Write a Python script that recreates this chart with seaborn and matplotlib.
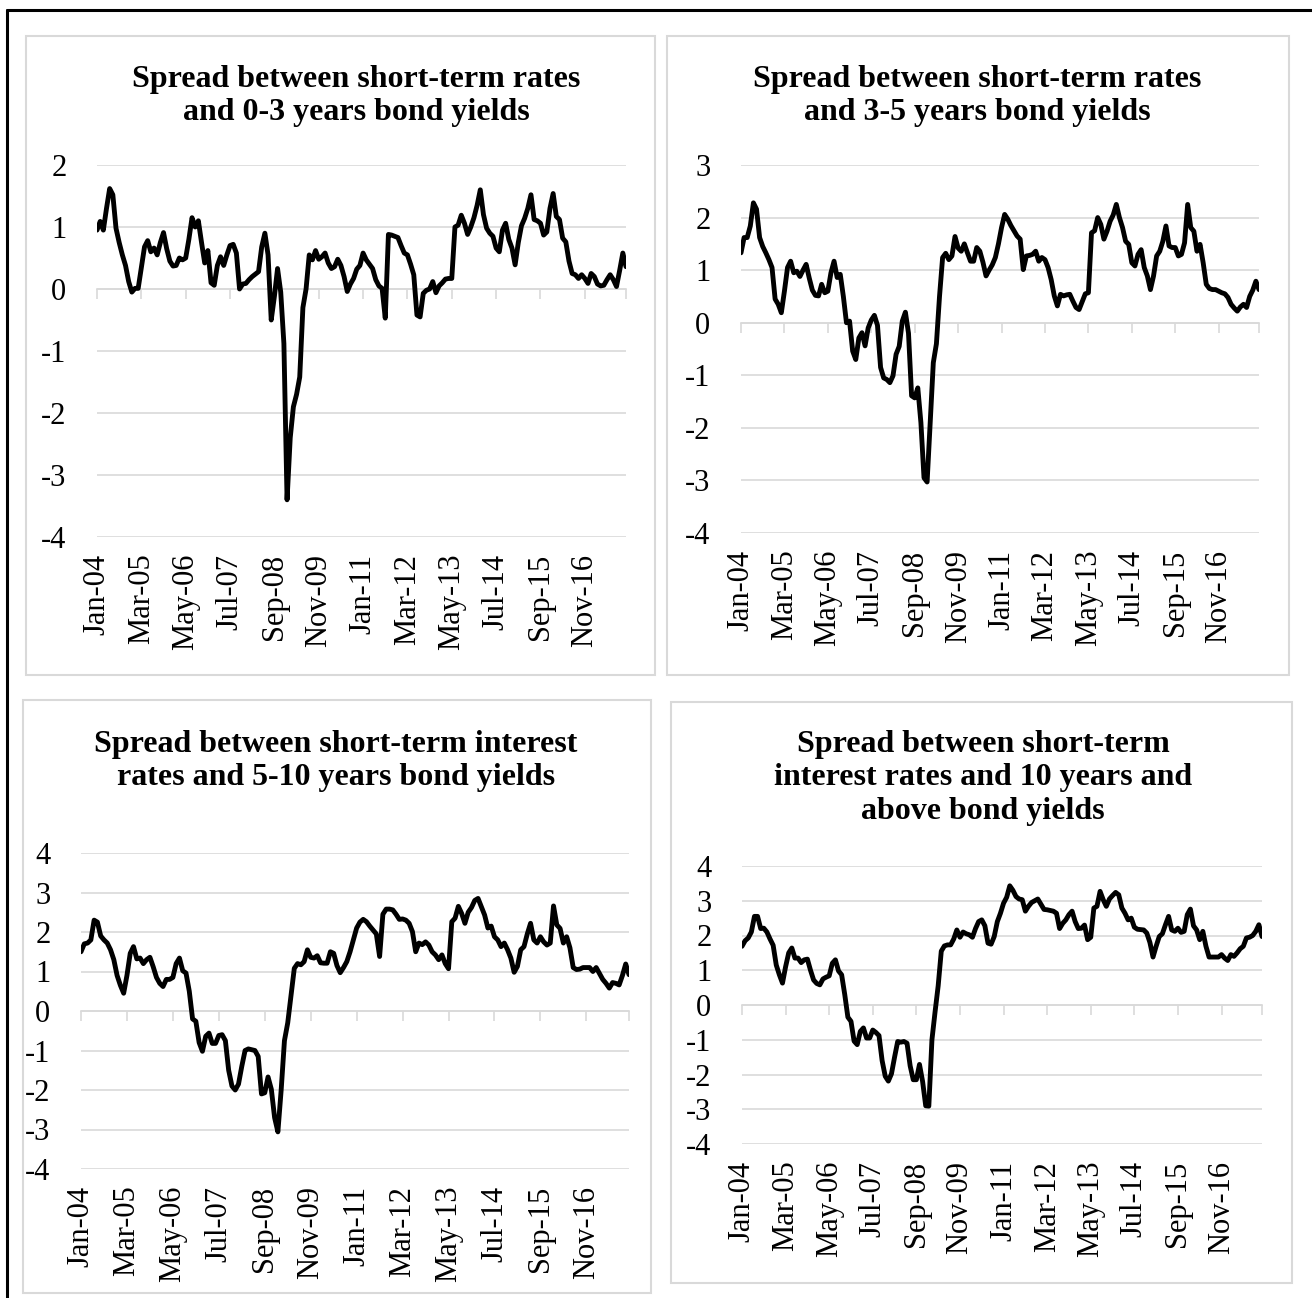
import matplotlib.pyplot as plt
import matplotlib.patches as mpatches
import matplotlib.lines as mlines
import pandas as pd
import seaborn as sns

# monthly spreads, Jan-04 .. Dec-17 (168 months)
spread_0_3 = [
    0.95, 1.09, 0.95, 1.3, 1.62, 1.52, 0.98, 0.75, 0.55, 0.38, 0.12, -0.05, 0.01, 0.01,
    0.35, 0.68, 0.78, 0.6, 0.66, 0.55, 0.75, 0.91, 0.65, 0.45, 0.37, 0.38, 0.5, 0.47,
    0.5, 0.8, 1.15, 1.0, 1.1, 0.75, 0.42, 0.62, 0.1, 0.06, 0.38, 0.52, 0.38, 0.55,
    0.7, 0.72, 0.58, 0.0, 0.08, 0.09, 0.15, 0.2, 0.24, 0.28, 0.68, 0.9, 0.55, -0.5,
    -0.12, 0.33, -0.05, -0.88, -3.4, -2.4, -1.9, -1.7, -1.42, -0.3, 0.0, 0.55, 0.47, 0.62,
    0.48, 0.52, 0.58, 0.42, 0.33, 0.36, 0.48, 0.38, 0.2, -0.04, 0.08, 0.17, 0.32, 0.38,
    0.58, 0.47, 0.4, 0.33, 0.15, 0.05, 0.01, -0.47, 0.88, 0.87, 0.85, 0.83, 0.7, 0.58,
    0.55, 0.4, 0.23, -0.42, -0.45, -0.07, -0.02, 0.0, 0.12, -0.06, 0.05, 0.1, 0.16, 0.17,
    0.17, 1.0, 1.03, 1.19, 1.06, 0.88, 1.0, 1.15, 1.35, 1.6, 1.2, 0.98, 0.9, 0.85,
    0.66, 0.6, 0.95, 1.06, 0.8, 0.66, 0.39, 0.75, 1.02, 1.14, 1.3, 1.52, 1.12, 1.1,
    1.06, 0.87, 0.92, 1.3, 1.54, 1.17, 1.12, 0.82, 0.76, 0.45, 0.25, 0.23, 0.17, 0.23,
    0.17, 0.09, 0.25, 0.2, 0.08, 0.05, 0.06, 0.15, 0.23, 0.15, 0.04, 0.3, 0.58, 0.36,
]
spread_3_5 = [
    1.33, 1.62, 1.62, 1.84, 2.28, 2.16, 1.62, 1.45, 1.33, 1.2, 1.05, 0.45, 0.35, 0.19,
    0.6, 1.05, 1.17, 0.95, 0.98, 0.88, 1.0, 1.11, 0.85, 0.62, 0.52, 0.51, 0.73, 0.57,
    0.6, 0.95, 1.17, 0.86, 0.92, 0.5, 0.0, 0.03, -0.54, -0.7, -0.29, -0.19, -0.44, -0.1,
    0.05, 0.14, -0.05, -0.85, -1.05, -1.08, -1.14, -1.01, -0.6, -0.45, 0.03, 0.2, -0.2, -1.39,
    -1.43, -1.24, -1.9, -2.95, -3.03, -1.9, -0.76, -0.4, 0.5, 1.24, 1.32, 1.2, 1.27, 1.64,
    1.42, 1.36, 1.5, 1.33, 1.17, 1.17, 1.43, 1.36, 1.15, 0.89, 1.0, 1.1, 1.24, 1.5,
    1.81, 2.06, 1.97, 1.85, 1.75, 1.65, 1.59, 1.01, 1.27, 1.28, 1.3, 1.36, 1.17, 1.24,
    1.2, 1.05, 0.82, 0.51, 0.32, 0.54, 0.51, 0.53, 0.54, 0.41, 0.29, 0.25, 0.4, 0.55,
    0.57, 1.71, 1.75, 2.0, 1.87, 1.59, 1.74, 1.93, 2.05, 2.25, 2.0, 1.81, 1.55, 1.49,
    1.14, 1.08, 1.3, 1.39, 1.05, 0.89, 0.63, 0.89, 1.27, 1.36, 1.55, 1.84, 1.46, 1.43,
    1.43, 1.27, 1.3, 1.52, 2.25, 1.81, 1.74, 1.36, 1.49, 1.14, 0.73, 0.65, 0.63, 0.63,
    0.6, 0.57, 0.55, 0.48, 0.35, 0.28, 0.22, 0.3, 0.35, 0.29, 0.5, 0.62, 0.79, 0.63,
]
spread_5_10 = [
    1.5, 1.7, 1.72, 1.8, 2.3, 2.25, 1.9, 1.8, 1.72, 1.55, 1.3, 0.9, 0.65, 0.45,
    0.9, 1.46, 1.63, 1.32, 1.34, 1.2, 1.3, 1.36, 1.12, 0.85, 0.7, 0.62, 0.8, 0.8,
    0.85, 1.2, 1.34, 1.02, 0.96, 0.5, -0.2, -0.26, -0.8, -1.02, -0.64, -0.56, -0.82, -0.82,
    -0.62, -0.6, -0.75, -1.5, -1.9, -2.0, -1.85, -1.4, -1.0, -0.96, -0.98, -1.0, -1.15, -2.1,
    -2.07, -1.67, -1.98, -2.7, -3.06, -2.0, -0.75, -0.3, 0.4, 1.08, 1.2, 1.17, 1.25, 1.55,
    1.36, 1.34, 1.4, 1.22, 1.21, 1.21, 1.5, 1.46, 1.15, 0.97, 1.1, 1.25, 1.5, 1.8,
    2.1, 2.25, 2.32, 2.26, 2.15, 2.05, 1.95, 1.38, 2.45, 2.58, 2.58, 2.56, 2.45, 2.32,
    2.33, 2.3, 2.22, 2.01, 1.5, 1.72, 1.68, 1.75, 1.67, 1.5, 1.42, 1.3, 1.42, 1.2,
    1.07, 2.26, 2.35, 2.65, 2.47, 2.22, 2.5, 2.62, 2.8, 2.85, 2.64, 2.43, 2.1, 2.15,
    1.88, 1.8, 1.63, 1.72, 1.55, 1.34, 0.98, 1.13, 1.55, 1.63, 1.95, 2.22, 1.8, 1.72,
    1.88, 1.75, 1.67, 1.72, 2.66, 2.18, 2.09, 1.72, 1.88, 1.6, 1.1, 1.05, 1.06, 1.1,
    1.1, 1.1, 1.0, 1.1, 0.95, 0.8, 0.7, 0.58, 0.72, 0.7, 0.66, 0.9, 1.19, 0.92,
]
spread_10_plus = [
    1.69, 1.85, 1.93, 2.1, 2.55, 2.55, 2.2, 2.21, 2.1, 1.9, 1.72, 1.15, 0.87, 0.63,
    1.1, 1.5, 1.64, 1.35, 1.35, 1.22, 1.3, 1.32, 1.0, 0.72, 0.62, 0.58, 0.75, 0.8,
    0.84, 1.2, 1.3, 0.98, 0.87, 0.3, -0.35, -0.47, -1.04, -1.14, -0.76, -0.66, -0.95, -0.95,
    -0.72, -0.79, -0.88, -1.6, -2.05, -2.19, -1.98, -1.5, -1.05, -1.07, -1.05, -1.1, -1.75, -2.15,
    -2.15, -1.71, -2.2, -2.9, -2.91, -1.0, -0.2, 0.55, 1.55, 1.7, 1.73, 1.73, 1.9, 2.16,
    1.95, 2.1, 2.05, 2.02, 1.95, 2.2, 2.4, 2.45, 2.28, 1.78, 1.75, 1.97, 2.4, 2.64,
    2.93, 3.1, 3.43, 3.3, 3.12, 3.05, 3.03, 2.7, 2.84, 2.95, 3.0, 3.05, 2.9, 2.75,
    2.74, 2.72, 2.7, 2.64, 2.2, 2.35, 2.45, 2.6, 2.7, 2.4, 2.2, 2.21, 2.3, 1.88,
    1.95, 2.79, 2.84, 3.27, 3.03, 2.84, 3.05, 3.15, 3.24, 3.17, 2.79, 2.64, 2.45, 2.5,
    2.24, 2.18, 2.17, 2.16, 2.07, 1.8, 1.38, 1.69, 1.97, 2.05, 2.31, 2.55, 2.16, 2.12,
    2.21, 2.09, 2.12, 2.6, 2.76, 2.28, 2.16, 1.88, 2.12, 1.69, 1.38, 1.38, 1.38, 1.38,
    1.45, 1.35, 1.28, 1.45, 1.4, 1.5, 1.62, 1.69, 1.93, 1.95, 2.0, 2.12, 2.31, 1.97,
]

tick_labels = ['Jan-04', 'Mar-05', 'May-06', 'Jul-07', 'Sep-08', 'Nov-09',
               'Jan-11', 'Mar-12', 'May-13', 'Jul-14', 'Sep-15', 'Nov-16']
label_step = 14

titles = [
    'Spread between short-term rates\nand 0-3 years bond yields',
    'Spread between short-term rates\nand 3-5 years bond yields',
    'Spread between short-term interest\nrates and 5-10 years bond yields',
    'Spread between short-term\ninterest rates and 10 years and\nabove bond yields',
]
series = [spread_0_3, spread_3_5, spread_5_10, spread_10_plus]
y_ranges = [(-4, 2), (-4, 3), (-4, 4), (-4, 4)]

W, H = 1312, 1298
# plot areas in pixels: x0, x1, y_top, y_bottom
areas = [(97, 626, 165, 537), (741, 1259, 165, 533),
         (81, 629, 853, 1169), (742, 1262, 866, 1144)]
# chart frames in pixels: x0, y0, x1, y1
frames = [(26, 36, 655, 675), (667, 36, 1289, 675),
          (23, 700, 651, 1293), (671, 702, 1292, 1283)]
# title centres in pixels: x, y of the middle of the block
title_pos = [(356, 96), (977, 96), (336, 761), (983, 778)]

sns.set_theme(style='white')
plt.rcParams['font.family'] = ['Liberation Serif', 'DejaVu Serif']
plt.rcParams['text.color'] = 'black'
plt.rcParams['xtick.color'] = 'black'
plt.rcParams['ytick.color'] = 'black'

grid_col = '#d9d9d9'
fs = 22

fig = plt.figure(figsize=(W / 100, H / 100), dpi=100)

# outer black frame (only left and top edges are in view)
fig.add_artist(mlines.Line2D([7 / W, 7 / W], [0, 1 - 10 / H], color='black', lw=2.2,
                             transform=fig.transFigure))
fig.add_artist(mlines.Line2D([7 / W, 1], [1 - 10 / H, 1 - 10 / H], color='black', lw=2.2,
                             transform=fig.transFigure))

for i in range(4):
    fx0, fy0, fx1, fy1 = frames[i]
    fig.add_artist(mpatches.Rectangle((fx0 / W, 1 - fy1 / H), (fx1 - fx0) / W, (fy1 - fy0) / H,
                                      transform=fig.transFigure, fill=False,
                                      edgecolor=grid_col, lw=1.5))

    x0, x1, yt, yb = areas[i]
    ax = fig.add_axes([x0 / W, 1 - yb / H, (x1 - x0) / W, (yb - yt) / H])
    vals = series[i]
    df = pd.DataFrame({'month': range(len(vals)), 'spread': vals})
    sns.lineplot(data=df, x='month', y='spread', ax=ax, color='black', linewidth=3.5)

    lo, hi = y_ranges[i]
    n = len(vals)
    ax.set_xlim(0, n - 1)
    ax.set_ylim(lo, hi)
    ax.set_yticks(range(lo, hi + 1))
    ax.set_yticklabels([str(v) for v in range(lo, hi + 1)], fontsize=fs)
    ticks = [k * label_step for k in range(len(tick_labels))]
    ax.set_xticks(ticks)
    ax.set_xticklabels(tick_labels, rotation=90, fontsize=fs)
    ax.tick_params(axis='x', length=0, pad=12, labelcolor='black')
    ax.tick_params(axis='y', length=0, pad=22, labelcolor='black')
    ax.set_xlabel('')
    ax.set_ylabel('')
    ax.grid(axis='y', color=grid_col, lw=1.2)
    ax.grid(axis='x', visible=False)
    ax.set_axisbelow(True)
    for s in ax.spines.values():
        s.set_visible(False)

    # category axis drawn through zero, with tick marks every 14 months
    sec = ax.secondary_xaxis((0 - lo) / (hi - lo))
    sec.set_alignment('bottom')
    sec.set_xticks(ticks + [n - 1])
    sec.set_xticklabels([])
    sec.tick_params(direction='out', length=7, width=1.2, color=grid_col)
    for s in sec.spines.values():
        s.set_visible(False)
    sec.spines['bottom'].set_visible(True)
    sec.spines['bottom'].set_color(grid_col)
    sec.spines['bottom'].set_linewidth(1.2)

    tx, ty = title_pos[i]
    fig.text(tx / W, 1 - ty / H, titles[i], ha='center', va='center', fontsize=23,
             fontweight='bold', linespacing=1.22, color='black')

fig.savefig('out.png', dpi=100)
